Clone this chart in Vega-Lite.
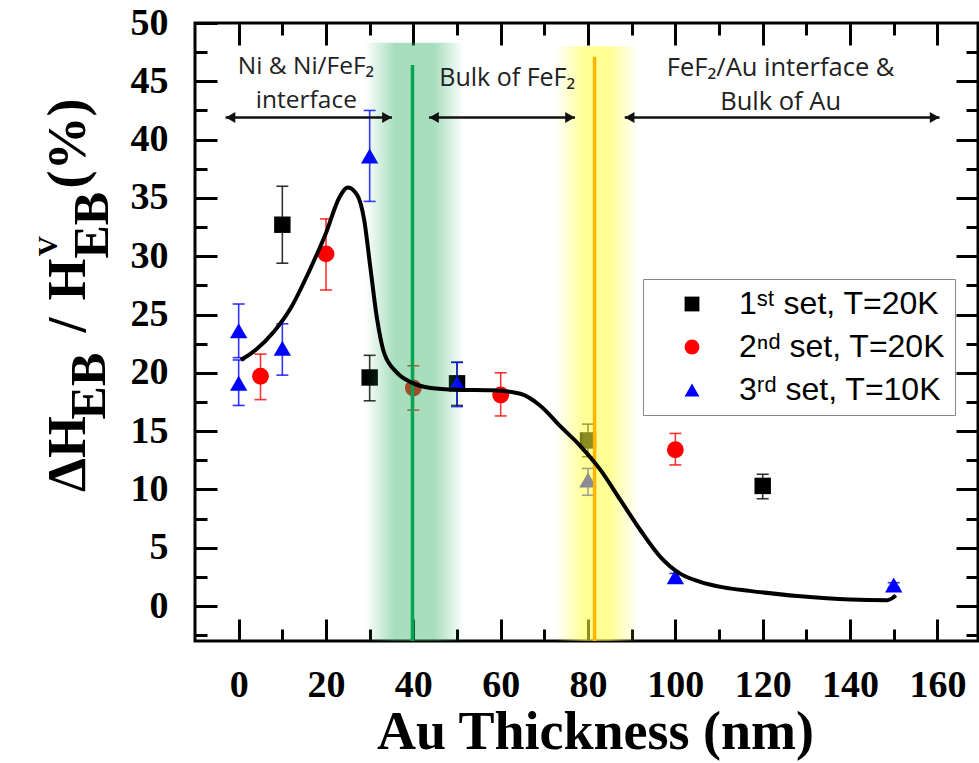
{
  "$schema": "https://vega.github.io/schema/vega-lite/v6.json",
  "width": 783,
  "height": 618,
  "autosize": {"type": "none"},
  "padding": {"left": 195, "top": 23, "right": 1, "bottom": 122},
  "background": "white",
  "config": {
    "view": {"stroke": "#000", "strokeWidth": 3},
    "font": "Liberation Serif"
  },
  "datasets": {
    "pts": [
      {"series": "1ˢᵗ set, T=20K", "x": 10, "y": 32.7, "lo": 29.4, "hi": 36.0},
      {"series": "1ˢᵗ set, T=20K", "x": 30, "y": 19.6, "lo": 17.6, "hi": 21.5},
      {"series": "1ˢᵗ set, T=20K", "x": 50, "y": 19.1, "lo": 17.2, "hi": 20.9},
      {"series": "1ˢᵗ set, T=20K", "x": 80, "y": 14.2, "lo": 12.8, "hi": 15.6},
      {"series": "1ˢᵗ set, T=20K", "x": 120, "y": 10.3, "lo": 9.2, "hi": 11.3},
      {"series": "2ⁿᵈ set, T=20K", "x": 5, "y": 19.7, "lo": 17.7, "hi": 21.6},
      {"series": "2ⁿᵈ set, T=20K", "x": 20, "y": 30.2, "lo": 27.1, "hi": 33.2},
      {"series": "2ⁿᵈ set, T=20K", "x": 40, "y": 18.7, "lo": 16.8, "hi": 20.6},
      {"series": "2ⁿᵈ set, T=20K", "x": 60, "y": 18.1, "lo": 16.3, "hi": 20.0},
      {"series": "2ⁿᵈ set, T=20K", "x": 100, "y": 13.4, "lo": 12.1, "hi": 14.8},
      {"series": "3ʳᵈ set, T=10K", "x": 0, "y": 23.6, "lo": 21.3, "hi": 25.9},
      {"series": "3ʳᵈ set, T=10K", "x": 0, "y": 19.1, "lo": 17.2, "hi": 21.1},
      {"series": "3ʳᵈ set, T=10K", "x": 10, "y": 22.1, "lo": 19.8, "hi": 24.2},
      {"series": "3ʳᵈ set, T=10K", "x": 30, "y": 38.6, "lo": 34.7, "hi": 42.5},
      {"series": "3ʳᵈ set, T=10K", "x": 50, "y": 19.1, "lo": 17.1, "hi": 20.9},
      {"series": "3ʳᵈ set, T=10K", "x": 80, "y": 10.8, "lo": 9.5, "hi": 11.8},
      {"series": "3ʳᵈ set, T=10K", "x": 100, "y": 2.5, "lo": 2.2, "hi": 2.8},
      {"series": "3ʳᵈ set, T=10K", "x": 150, "y": 1.8, "lo": 1.6, "hi": 2.0}
    ],
    "fit": [
      {"x": 0.5, "y": 21.1}, {"x": 4, "y": 22.0}, {"x": 8, "y": 23.5}, {"x": 12, "y": 25.6},
      {"x": 16, "y": 28.6}, {"x": 20, "y": 32.0}, {"x": 23, "y": 35.0}, {"x": 25, "y": 35.9},
      {"x": 27.2, "y": 35.2}, {"x": 28.7, "y": 33.2}, {"x": 30.2, "y": 28.9}, {"x": 31.7, "y": 24.6},
      {"x": 33.3, "y": 21.7}, {"x": 36.3, "y": 20.0}, {"x": 39.4, "y": 19.2}, {"x": 44, "y": 18.7},
      {"x": 50, "y": 18.55}, {"x": 58, "y": 18.5}, {"x": 64.5, "y": 18.2}, {"x": 69, "y": 17.2},
      {"x": 73.7, "y": 15.4}, {"x": 78.3, "y": 13.7}, {"x": 82.8, "y": 11.7}, {"x": 87.4, "y": 9.1},
      {"x": 92, "y": 6.5}, {"x": 96.6, "y": 4.2}, {"x": 101, "y": 2.8}, {"x": 105.5, "y": 2.1},
      {"x": 111, "y": 1.6}, {"x": 117, "y": 1.3}, {"x": 128, "y": 0.85}, {"x": 140, "y": 0.55},
      {"x": 148.5, "y": 0.5}, {"x": 150.5, "y": 0.9}
    ],
    "arrows": [
      {"x1": -3, "x2": 35.1, "y": 41.9},
      {"x1": 43.6, "x2": 77, "y": 41.9},
      {"x1": 88.4, "x2": 160.5, "y": 41.9}
    ],
    "one": [{"k": 1}]
  },
  "resolve": {"axis": {"x": "independent", "y": "independent"}},
  "layer": [
    {
      "data": {"name": "pts"},
      "mark": {"type": "rule", "strokeWidth": 1.6, "opacity": 0.8},
      "encoding": {
        "x": {"field": "x", "type": "quantitative", "axis": null, "scale": {"domain": [-10, 169.3], "nice": false, "zero": false}},
        "y": {"field": "lo", "type": "quantitative", "axis": null, "scale": {"domain": [-3, 50], "nice": false, "zero": false}},
        "y2": {"field": "hi"},
        "stroke": {"field": "series", "type": "nominal", "legend": null,
          "scale": {"domain": ["3ʳᵈ set, T=10K", "2ⁿᵈ set, T=20K", "1ˢᵗ set, T=20K"], "range": ["#0000ff", "#ff0000", "#000000"]}}
      }
    },
    {
      "data": {"name": "pts"},
      "mark": {"type": "rule", "strokeWidth": 1.6, "opacity": 0.8, "xOffset": -6, "x2Offset": 6},
      "encoding": {
        "x": {"field": "x", "type": "quantitative", "axis": null}, "x2": {"field": "x"},
        "y": {"field": "lo", "type": "quantitative", "axis": null},
        "stroke": {"field": "series", "type": "nominal", "legend": null}
      }
    },
    {
      "data": {"name": "pts"},
      "mark": {"type": "rule", "strokeWidth": 1.6, "opacity": 0.8, "xOffset": -6, "x2Offset": 6},
      "encoding": {
        "x": {"field": "x", "type": "quantitative", "axis": null}, "x2": {"field": "x"},
        "y": {"field": "hi", "type": "quantitative", "axis": null},
        "stroke": {"field": "series", "type": "nominal", "legend": null}
      }
    },
    {
      "data": {"name": "pts"},
      "mark": {"type": "point", "filled": true, "opacity": 1},
      "encoding": {
        "x": {"field": "x", "type": "quantitative",
          "axis": {"orient": "bottom", "title": "Au Thickness (nm)", "values": [0, 10, 20, 30, 40, 50, 60, 70, 80, 90, 100, 110, 120, 130, 140, 150, 160],
            "domain": false, "grid": false, "tickColor": "#000", "tickWidth": 3,
            "tickSize": {"condition": {"test": "datum.value % 20 === 0", "value": -22}, "value": -12},
            "labelExpr": "datum.value % 20 === 0 ? datum.label : ''",
            "labelFont": "Liberation Serif", "labelFontWeight": "bold", "labelFontSize": 38, "labelColor": "#000",
            "labelPadding": 47, "labelFlush": false, "labelOverlap": false,
            "titleFont": "Liberation Serif", "titleFontWeight": "bold", "titleFontSize": 54, "titleColor": "#000",
            "titleBaseline": "alphabetic", "titleY": 107, "titleX": 400}},
        "y": {"field": "y", "type": "quantitative",
          "axis": {"orient": "left", "title": null, "values": [-2.5, 0, 2.5, 5, 7.5, 10, 12.5, 15, 17.5, 20, 22.5, 25, 27.5, 30, 32.5, 35, 37.5, 40, 42.5, 45, 47.5, 50],
            "domain": false, "grid": false, "tickColor": "#000", "tickWidth": 3,
            "tickSize": {"condition": {"test": "datum.value % 5 === 0", "value": -22}, "value": -12},
            "labelExpr": "datum.value % 5 === 0 ? datum.label : ''",
            "labelFont": "Liberation Serif", "labelFontWeight": "bold", "labelFontSize": 38, "labelColor": "#000",
            "labelPadding": 49, "labelFlush": false, "labelOverlap": false}},
        "size": {"field": "series", "type": "nominal", "legend": null,
          "scale": {"domain": ["3ʳᵈ set, T=10K", "2ⁿᵈ set, T=20K", "1ˢᵗ set, T=20K"], "range": [300, 270, 200]}},
        "color": {"field": "series", "type": "nominal",
          "scale": {"domain": ["1ˢᵗ set, T=20K", "2ⁿᵈ set, T=20K", "3ʳᵈ set, T=10K"], "range": ["#000000", "#ff0000", "#0000ff"]},
          "legend": {"title": null, "orient": "none", "legendX": 448, "legendY": 256, "direction": "vertical",
            "labelFont": "Liberation Sans", "labelFontSize": 32, "labelColor": "#000", "labelFontWeight": "normal",
            "symbolSize": 220, "symbolStrokeWidth": 0, "strokeColor": "#888888", "fillColor": "#ffffff",
            "padding": 9, "rowPadding": 11, "symbolOffset": 24, "labelOffset": 31, "labelLimit": 400}},
        "shape": {"field": "series", "type": "nominal",
          "legend": {"title": null, "orient": "none", "legendX": 448, "legendY": 256, "direction": "vertical",
            "labelFont": "Liberation Sans", "labelFontSize": 32, "labelColor": "#000", "labelFontWeight": "normal",
            "symbolSize": 220, "symbolStrokeWidth": 0, "strokeColor": "#888888", "fillColor": "#ffffff",
            "padding": 9, "rowPadding": 11, "symbolOffset": 24, "labelOffset": 31, "labelLimit": 400},
          "scale": {"domain": ["1ˢᵗ set, T=20K", "2ⁿᵈ set, T=20K", "3ʳᵈ set, T=10K"], "range": ["square", "circle", "triangle-up"]}}
      }
    },
    {
      "data": {"name": "one"},
      "mark": {"type": "rect", "fill": {"gradient": "linear", "x1": 0, "y1": 0, "x2": 1, "y2": 0,
        "stops": [{"offset": 0, "color": "rgba(46,176,100,0)"}, {"offset": 0.3, "color": "rgba(46,176,100,0.42)"}, {"offset": 0.7, "color": "rgba(46,176,100,0.42)"}, {"offset": 1, "color": "rgba(46,176,100,0)"}]}},
      "encoding": {
        "x": {"datum": 29, "type": "quantitative", "axis": null}, "x2": {"datum": 51.5},
        "y": {"datum": 48.3, "type": "quantitative", "axis": null}, "y2": {"datum": -3}
      }
    },
    {
      "data": {"name": "one"},
      "mark": {"type": "rect", "fill": {"gradient": "linear", "x1": 0, "y1": 0, "x2": 1, "y2": 0,
        "stops": [{"offset": 0, "color": "rgba(255,255,60,0)"}, {"offset": 0.35, "color": "rgba(255,255,60,0.55)"}, {"offset": 0.65, "color": "rgba(255,255,60,0.55)"}, {"offset": 1, "color": "rgba(255,255,60,0)"}]}},
      "encoding": {
        "x": {"datum": 72.5, "type": "quantitative", "axis": null}, "x2": {"datum": 91.5},
        "y": {"datum": 48.0, "type": "quantitative", "axis": null}, "y2": {"datum": -3}
      }
    },
    {
      "data": {"name": "one"},
      "mark": {"type": "rule", "color": "#00a651", "strokeWidth": 3.5},
      "encoding": {
        "x": {"datum": 39.8, "type": "quantitative", "axis": null},
        "y": {"datum": 46.4, "type": "quantitative", "axis": null}, "y2": {"datum": -3}
      }
    },
    {
      "data": {"name": "one"},
      "mark": {"type": "rule", "color": "#ffb600", "strokeWidth": 3.5},
      "encoding": {
        "x": {"datum": 81.5, "type": "quantitative", "axis": null},
        "y": {"datum": 47.1, "type": "quantitative", "axis": null}, "y2": {"datum": -3}
      }
    },
    {
      "data": {"name": "fit"},
      "mark": {"type": "line", "color": "#000", "strokeWidth": 4, "interpolate": "monotone"},
      "encoding": {
        "x": {"field": "x", "type": "quantitative",
          "axis": {"orient": "top", "title": null, "labels": false, "values": [0, 10, 20, 30, 40, 50, 60, 70, 80, 90, 100, 110, 120, 130, 140, 150, 160],
            "domain": false, "grid": false, "tickColor": "#000", "tickWidth": 3,
            "tickSize": {"condition": {"test": "datum.value % 20 === 0", "value": -22}, "value": -12}}},
        "y": {"field": "y", "type": "quantitative",
          "axis": {"orient": "right", "title": null, "labels": false, "values": [-2.5, 0, 2.5, 5, 7.5, 10, 12.5, 15, 17.5, 20, 22.5, 25, 27.5, 30, 32.5, 35, 37.5, 40, 42.5, 45, 47.5],
            "domain": false, "grid": false, "tickColor": "#000", "tickWidth": 3,
            "tickSize": {"condition": {"test": "datum.value % 5 === 0", "value": -22}, "value": -12}}}
      }
    },
    {
      "data": {"name": "arrows"},
      "mark": {"type": "rule", "color": "#111", "strokeWidth": 2.5},
      "encoding": {
        "x": {"field": "x1", "type": "quantitative", "axis": null}, "x2": {"field": "x2"},
        "y": {"field": "y", "type": "quantitative", "axis": null}
      }
    },
    {
      "data": {"name": "arrows"},
      "mark": {"type": "point", "shape": "triangle-left", "filled": true, "color": "#111", "size": 120, "xOffset": 5, "opacity": 1},
      "encoding": {
        "x": {"field": "x1", "type": "quantitative", "axis": null},
        "y": {"field": "y", "type": "quantitative", "axis": null}
      }
    },
    {
      "data": {"name": "arrows"},
      "mark": {"type": "point", "shape": "triangle-right", "filled": true, "color": "#111", "size": 120, "xOffset": -5, "opacity": 1},
      "encoding": {
        "x": {"field": "x2", "type": "quantitative", "axis": null},
        "y": {"field": "y", "type": "quantitative", "axis": null}
      }
    },
    {
      "data": {"name": "one"},
      "mark": {"type": "text", "text": "Ni & Ni/FeF₂", "font": "Open Sans", "fontSize": 24.5, "color": "#222", "align": "center", "baseline": "middle"},
      "encoding": {"x": {"datum": 15.4, "type": "quantitative", "axis": null}, "y": {"datum": 46.2, "type": "quantitative", "axis": null}}
    },
    {
      "data": {"name": "one"},
      "mark": {"type": "text", "text": "interface", "font": "Open Sans", "fontSize": 24.5, "color": "#222", "align": "center", "baseline": "middle"},
      "encoding": {"x": {"datum": 15.5, "type": "quantitative", "axis": null}, "y": {"datum": 43.35, "type": "quantitative", "axis": null}}
    },
    {
      "data": {"name": "one"},
      "mark": {"type": "text", "text": "Bulk of FeF₂", "font": "Open Sans", "fontSize": 25, "color": "#222", "align": "center", "baseline": "middle"},
      "encoding": {"x": {"datum": 61.5, "type": "quantitative", "axis": null}, "y": {"datum": 45.3, "type": "quantitative", "axis": null}}
    },
    {
      "data": {"name": "one"},
      "mark": {"type": "text", "text": "FeF₂/Au interface &", "font": "Open Sans", "fontSize": 25.5, "color": "#222", "align": "center", "baseline": "middle"},
      "encoding": {"x": {"datum": 124.1, "type": "quantitative", "axis": null}, "y": {"datum": 46.1, "type": "quantitative", "axis": null}}
    },
    {
      "data": {"name": "one"},
      "mark": {"type": "text", "text": "Bulk of Au", "font": "Open Sans", "fontSize": 25.5, "color": "#222", "align": "center", "baseline": "middle"},
      "encoding": {"x": {"datum": 124.1, "type": "quantitative", "axis": null}, "y": {"datum": 43.2, "type": "quantitative", "axis": null}}
    },
    {
      "data": {"name": "one"},
      "mark": {"type": "text", "text": "ΔH", "font": "Liberation Serif", "fontWeight": "bold", "fontSize": 54, "color": "#000", "angle": 270, "align": "left", "baseline": "alphabetic"},
      "encoding": {"x": {"datum": -35.12, "type": "quantitative", "axis": null}, "y": {"datum": 9.78, "type": "quantitative", "axis": null}}
    },
    {
      "data": {"name": "one"},
      "mark": {"type": "text", "text": "EB", "font": "Liberation Serif", "fontWeight": "bold", "fontSize": 50, "color": "#000", "angle": 270, "align": "left", "baseline": "alphabetic"},
      "encoding": {"x": {"datum": -30.54, "type": "quantitative", "axis": null}, "y": {"datum": 16.0, "type": "quantitative", "axis": null}}
    },
    {
      "data": {"name": "one"},
      "mark": {"type": "text", "text": "/", "font": "Liberation Serif", "fontWeight": "bold", "fontSize": 54, "color": "#000", "angle": 270, "align": "center", "baseline": "alphabetic"},
      "encoding": {"x": {"datum": -35.12, "type": "quantitative", "axis": null}, "y": {"datum": 24.1, "type": "quantitative", "axis": null}}
    },
    {
      "data": {"name": "one"},
      "mark": {"type": "text", "text": "H", "font": "Liberation Serif", "fontWeight": "bold", "fontSize": 54, "color": "#000", "angle": 270, "align": "left", "baseline": "alphabetic"},
      "encoding": {"x": {"datum": -35.12, "type": "quantitative", "axis": null}, "y": {"datum": 26.2, "type": "quantitative", "axis": null}}
    },
    {
      "data": {"name": "one"},
      "mark": {"type": "text", "text": "V", "font": "Liberation Serif", "fontWeight": "bold", "fontSize": 28, "color": "#000", "angle": 270, "align": "left", "baseline": "alphabetic"},
      "encoding": {"x": {"datum": -41.5, "type": "quantitative", "axis": null}, "y": {"datum": 30.0, "type": "quantitative", "axis": null}}
    },
    {
      "data": {"name": "one"},
      "mark": {"type": "text", "text": "EB", "font": "Liberation Serif", "fontWeight": "bold", "fontSize": 50, "color": "#000", "angle": 270, "align": "left", "baseline": "alphabetic"},
      "encoding": {"x": {"datum": -29.85, "type": "quantitative", "axis": null}, "y": {"datum": 29.8, "type": "quantitative", "axis": null}}
    },
    {
      "data": {"name": "one"},
      "mark": {"type": "text", "text": "(%)", "font": "Liberation Serif", "fontWeight": "bold", "fontSize": 54, "color": "#000", "angle": 270, "align": "left", "baseline": "alphabetic"},
      "encoding": {"x": {"datum": -35.12, "type": "quantitative", "axis": null}, "y": {"datum": 35.8, "type": "quantitative", "axis": null}}
    }
  ]
}
